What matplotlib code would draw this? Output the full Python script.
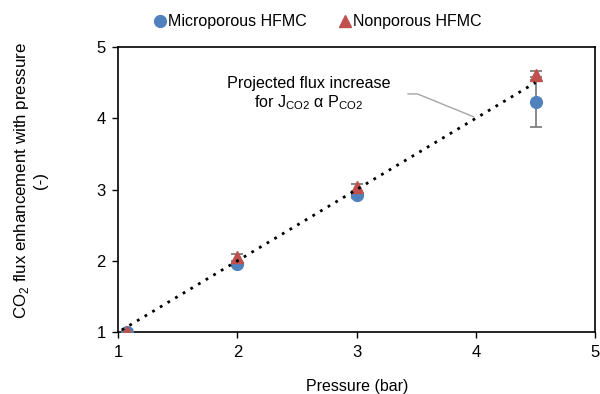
import numpy as np
import matplotlib.pyplot as plt

plt.rcParams['font.family'] = ['Liberation Sans', 'DejaVu Sans']

# Data
pressure = [1.075, 2.0, 3.0, 4.5]
micro = [1.0, 1.96, 2.92, 4.23]
micro_err = [0.02, 0.03, 0.04, 0.35]
nonpor = [1.0, 2.05, 3.03, 4.6]
nonpor_err = [0.02, 0.05, 0.05, 0.06]
proj_x = [1.03, 4.5]
proj_y = [1.03, 4.5]
# leader line for the annotation
lead_x = [3.43, 3.51, 3.98]
lead_y = [4.34, 4.34, 4.02]

fig = plt.figure(figsize=(6, 3.94), dpi=100)
ax = fig.add_axes([0.197, 0.157, 0.795, 0.724])

ax.errorbar(pressure, micro, yerr=micro_err, fmt='o', color='#4F81BD', ms=8.5,
            ecolor='#7f7f7f', elinewidth=1.3, capsize=4.5, capthick=1.3,
            label='Microporous HFMC', zorder=3)
ax.errorbar(pressure, nonpor, yerr=nonpor_err, fmt='^', color='#C0504D', ms=8.5,
            ecolor='#7f7f7f', elinewidth=1.3, capsize=4.5, capthick=1.3,
            label='Nonporous HFMC', zorder=4)
ax.plot(proj_x, proj_y, color='black', ls=(0, (1, 2.2)), lw=2, zorder=5)
ax.plot(lead_x, lead_y, color='#a6a6a6', lw=1, zorder=2)

ax.text(2.6, 4.34, 'Projected flux increase\nfor J$_{\\mathregular{CO2}}$ α P$_{\\mathregular{CO2}}$',
        ha='center', va='center', fontsize=11.6, linespacing=1.2)

ax.set_xlim(1, 5)
ax.set_ylim(1, 5)
ax.set_xticks([1, 2, 3, 4, 5])
ax.set_yticks([1, 2, 3, 4, 5])
ax.tick_params(direction='out', length=4, labelsize=12, width=1, pad=5)
for s in ax.spines.values():
    s.set_linewidth(1.2)

ax.set_xlabel('Pressure (bar)', fontsize=11.5, labelpad=14)
ax.set_ylabel('CO$_\\mathregular{2}$ flux enhancement with pressure\n(-)', fontsize=12.2,
              linespacing=1.15)
ax.yaxis.set_label_coords(-0.147, 0.53)

h, l = ax.get_legend_handles_labels()
h = [x[0] for x in h]
fig.legend(h, l, loc='upper center', bbox_to_anchor=(0.53, 1.0), ncol=2, frameon=False,
           fontsize=11.5, handlelength=0.7, handletextpad=0.15, columnspacing=2.0)

fig.savefig('out.png', dpi=100)
